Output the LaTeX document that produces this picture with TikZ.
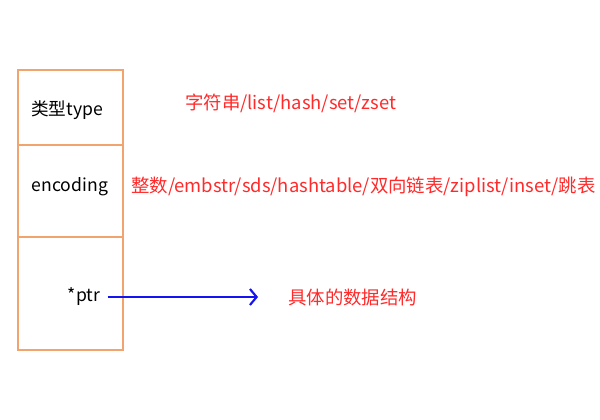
\documentclass[tikz,border=0pt]{standalone}
\usepackage{fontspec}
\setmainfont{Noto Sans CJK SC}
\usetikzlibrary{arrows.meta, positioning}
\definecolor{boxorange}{HTML}{F2A46E}
\definecolor{labelred}{HTML}{FF2A2A}
\definecolor{arrowblue}{HTML}{1414F0}

\tikzset{
  field/.style={font=\fontsize{13.2}{15}\selectfont, text=black},
  note/.style={font=\fontsize{13.8}{16}\selectfont, text=labelred, anchor=west, inner sep=0pt},
}

\begin{document}
\begin{tikzpicture}[x=0.75pt, y=-0.75pt]
  \useasboundingbox (0,0) rectangle (600,420);

  % object box
  \draw[boxorange, line width=1.2pt] (18,70) rectangle (123,350);
  \draw[boxorange, line width=1.2pt] (18,145) -- (123,145);
  \draw[boxorange, line width=1.2pt] (18,237) -- (123,237);

  % fields
  \node[field] (type) at (67,110) {类型type};
  \node[field] (enc) at (70,187) {encoding};
  \node[field, inner sep=1pt] (ptr) at (84,297) {*ptr};

  % notes
  \node[note] (typenote) at (185,103) {字符串/list/hash/set/zset};
  \node[note] (encnote) at (131,187) {整数/embstr/sds/hashtable/双向链表/ziplist/inset/跳表};
  \node[note] (ptrnote) at (288,297) {具体的数据结构};

  % pointer
  \coordinate (tip) at (258,297);
  \draw[arrowblue, line width=1.6pt, -{Straight Barb[length=5pt, width=12pt]}] (ptr.east) ++(6,0) -- (tip);
\end{tikzpicture}
\end{document}
